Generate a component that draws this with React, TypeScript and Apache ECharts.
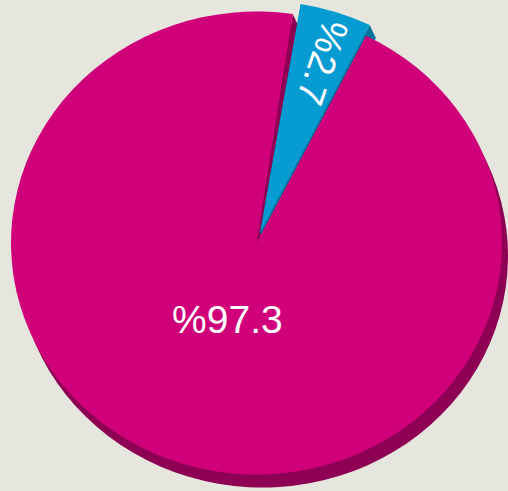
import React, { useEffect, useRef } from 'react';
import * as echarts from 'echarts';

// ---- data ----
const categories: string[] = ['Segment A', 'Segment B'];
const values: number[] = [97.3, 2.7];
const labelPrefix = '%';

// ---- styles / layout ----
const W = 508;
const H = 491;
const BG = '#e6e6de';
const topColors = ['#d0007a', '#069bd1'];
const sideColors = ['#8e0053', '#00739c'];
const CX = 256.5;
const CY = 243;
const R = 245.5;
const SCALE_Y = 0.943;
const START_DEG = 26.5; // clockwise from 12 o'clock
const MIN_ANGLE = 18;
const PAD_START = [0, 1]; // degrees of gap at the start of each slice
const EXPLODE = [0, 12];
const DEPTH_X = 6;
const DEPTH_Y = 13;
const LABEL_R = [0.34, 0.78];
const LABEL_SHIFT = [
  [-4, 1],
  [3, 2],
];
const LABEL_RADIAL = [false, true];
const LABEL_FONT = [39, 38];
const TOP_Z = [3, 2];

function computeAngles(): [number, number][] {
  const total = values.reduce((a, b) => a + b, 0);
  const raw = values.map((v) => (v / total) * 360);
  const extra = raw.reduce((s, a) => s + (a < MIN_ANGLE ? MIN_ANGLE - a : 0), 0);
  const bigTotal = raw.reduce((s, a) => s + (a >= MIN_ANGLE ? a : 0), 0);
  const angles = raw.map((a) => (a < MIN_ANGLE ? MIN_ANGLE : a - (extra * a) / bigTotal));
  let cur = START_DEG;
  return angles.map((a, i) => {
    const s = cur;
    cur += a;
    return [s + PAD_START[i], cur] as [number, number];
  });
}

export default function App() {
  const ref = useRef<HTMLDivElement>(null);

  useEffect(() => {
    document.body.style.margin = '0';
    document.body.style.background = BG;
    if (!ref.current) return;
    const chart = echarts.init(ref.current, undefined, { renderer: 'svg' });
    const angles = computeAngles();
    const d2r = Math.PI / 180;

    const renderItem = (params: any, api: any) => {
      const i = params.dataIndex;
      const [s, e] = angles[i];
      const mid = ((s + e) / 2) * d2r;
      const ox = EXPLODE[i] * Math.sin(mid);
      const oy = -EXPLODE[i] * Math.cos(mid);
      const sa = (s - 90) * d2r;
      const ea = (e - 90) * d2r;
      const sectorShape = { cx: ox, cy: oy, r0: 0, r: R, startAngle: sa, endAngle: ea, clockwise: true };

      // apex in screen coords
      const px = CX + ox;
      const py = CY + oy * SCALE_Y;
      const cutFace = (deg: number) => {
        const a = deg * d2r;
        const qx = px + R * Math.sin(a);
        const qy = py - R * Math.cos(a) * SCALE_Y;
        return {
          type: 'polygon',
          z2: 1,
          shape: {
            points: [
              [px, py],
              [qx, qy],
              [qx + DEPTH_X, qy + DEPTH_Y],
              [px + DEPTH_X, py + DEPTH_Y],
            ],
          },
          style: { fill: sideColors[i] },
        };
      };

      const lr = LABEL_R[i] * R;
      const lx = px + lr * Math.sin(mid) + LABEL_SHIFT[i][0];
      const ly = py - lr * Math.cos(mid) * SCALE_Y + LABEL_SHIFT[i][1];
      let rotation = 0;
      if (LABEL_RADIAL[i]) {
        const dx = -Math.sin(mid);
        const dy = Math.cos(mid) * SCALE_Y;
        rotation = -Math.atan2(dy, dx);
      }
      const v = api.value(0);

      return {
        type: 'group',
        children: [
          {
            type: 'group',
            x: CX + DEPTH_X,
            y: CY + DEPTH_Y,
            scaleY: SCALE_Y,
            children: [
              {
                type: 'sector',
                z2: 1,
                shape: sectorShape,
                style: { fill: sideColors[i] },
              },
            ],
          },
          cutFace(s),
          cutFace(e),
          {
            type: 'group',
            x: CX,
            y: CY,
            scaleY: SCALE_Y,
            children: [
              {
                type: 'sector',
                z2: TOP_Z[i],
                shape: sectorShape,
                style: { fill: topColors[i] },
              },
            ],
          },
          {
            type: 'text',
            z2: 10,
            x: lx,
            y: ly,
            rotation,
            style: {
              text: labelPrefix + v,
              fill: '#ffffff',
              fontSize: LABEL_FONT[i],
              fontFamily: 'Liberation Sans, Arial, sans-serif',
              align: 'center',
              verticalAlign: 'middle',
            },
          },
        ],
      };
    };

    chart.setOption({
      animation: false,
      backgroundColor: BG,
      series: [
        {
          type: 'custom',
          coordinateSystem: 'none',
          renderItem,
          data: values.map((v, i) => ({ name: categories[i], value: [v] })),
        },
      ],
    });
    return () => chart.dispose();
  }, []);

  return <div ref={ref} style={{ width: W, height: H }} />;
}
